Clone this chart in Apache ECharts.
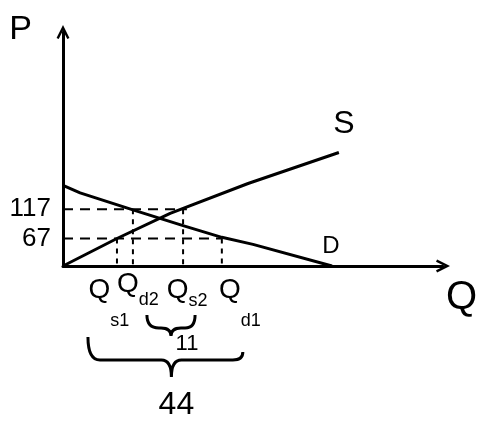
<!DOCTYPE html>
<html>
<head>
<meta charset="utf-8">
<script src="https://cdn.jsdelivr.net/npm/echarts@6/dist/echarts.min.js"></script>
<style>
  html,body{margin:0;padding:0;background:#fff;}
  #chart{width:480px;height:427px;}
</style>
</head>
<body>
<div id="chart"></div>
<script>
// quantities marked on the Q axis: Qs1, Qd2, Qs2, Qd1
const qMarks = [14.2, 18.4, 31.6, 41.8];
const qLabels = ['s1', 'd2', 's2', 'd1'];
// prices marked on the P axis
const pMarks = [67, 117];
// demand and supply curves [Q, P]
const demand = [[0,158],[4.5,145],[18.4,116],[31.6,89],[41.8,69],[50,57],[70.8,20]];
const supply = [[0,20],[14.2,67],[28.2,110],[48.7,161],[72.6,214]];
// braces: [from Q, to Q, width label]
const braces = [[18.4, 31.6, '11'], [14.2, 41.8, '44']];

const P0 = 20;
const FONT = '"Liberation Sans", sans-serif';
const arrow = 'path://M0,12 L6,0 L12,12 L10,13 L6,5 L2,13 Z';
// hand-written labels sit a little off their ticks
const labelShift = [-8, 5, 4, 18];
const subDrop = [36, 21, 16, 36];

function guides(){
  const h = [], v = [];
  h.push([0, pMarks[1]], [qMarks[2] + 1, pMarks[1]], null);
  h.push([0, pMarks[0]], [qMarks[3], pMarks[0]]);
  v.push([qMarks[0], pMarks[0]], [qMarks[0], P0], null);
  v.push([qMarks[1], pMarks[1]], [qMarks[1], P0], null);
  v.push([qMarks[2], pMarks[1]], [qMarks[2], P0], null);
  v.push([qMarks[3], pMarks[0]], [qMarks[3], P0]);
  return {h, v};
}
const g = guides();

function bracePath(l, r, top, topR, d, tip, m){
  const b = top + d;
  return 'M' + l + ',' + top +
    ' Q' + l + ',' + b + ' ' + (l + 12) + ',' + b +
    ' L' + (m - 10) + ',' + b +
    ' Q' + m + ',' + b + ' ' + m + ',' + (b + tip) +
    ' Q' + m + ',' + b + ' ' + (m + 10) + ',' + b +
    ' L' + (r - 10) + ',' + b +
    ' Q' + r + ',' + b + ' ' + r + ',' + topR;
}

function renderBrace(params, api){
  const a = api.coord([api.value(0), P0]);
  const b = api.coord([api.value(1), P0]);
  const big = params.dataIndex === 1;
  let l, r, top, topR, d, tip, m, tx, ty, fs;
  if (big){
    l = a[0] - 29; r = b[0] + 21; top = a[1] + 71; topR = a[1] + 86;
    d = 23; tip = 17; m = (l + r) / 2 + 6; tx = m + 5; ty = a[1] + 139; fs = 32;
  } else {
    l = a[0] + 14; r = b[0] + 12; top = a[1] + 49; topR = a[1] + 49;
    d = 13; tip = 8; m = (l + r) / 2; tx = m + 16; ty = a[1] + 78; fs = 22;
  }
  return {
    type: 'group',
    children: [
      {type: 'path', shape: {pathData: bracePath(l, r, top, topR, d, tip, m)},
       style: {stroke: '#000', lineWidth: 3, fill: null}},
      {type: 'text', style: {text: braces[params.dataIndex][2], x: tx, y: ty,
       font: fs + 'px ' + FONT, fill: '#000', textAlign: 'center', textVerticalAlign: 'middle'}}
    ]
  };
}

const rich = {};
labelShift.forEach(function(s, i){
  rich['q' + i] = {fontSize: 28, fontFamily: FONT, color: '#000', verticalAlign: 'top',
    padding: [0, 0, 0, s > 0 ? 2 * s : 0]};
  rich['s' + i] = {fontSize: 18, fontFamily: FONT, color: '#000', verticalAlign: 'top',
    padding: [subDrop[i], s < 0 ? -2 * s : 0, 0, 0]};
});

function qLabel(v){
  const i = qMarks.indexOf(v);
  return '{q' + i + '|Q}{s' + i + '|' + qLabels[i] + '}';
}
const axisLineStyle = {onZero: false, symbol: ['none', arrow], symbolSize: [14, 14], lineStyle: {color: '#000', width: 3}};

const chart = echarts.init(document.getElementById('chart'));
chart.setOption({
  animation: false,
  grid: {left: 63, right: 37, top: 32, bottom: 161, outerBoundsMode: 'none'},
  xAxis: [{
    type: 'value', min: 0, max: 100,
    name: 'Q', nameLocation: 'end', nameGap: 3,
    nameTextStyle: {fontSize: 40, fontFamily: FONT, color: '#000', verticalAlign: 'top', align: 'left', padding: [12, 0, 0, 0]},
    axisLine: axisLineStyle,
    axisTick: {show: false},
    splitLine: {show: false},
    axisLabel: {customValues: [qMarks[0], qMarks[2], qMarks[3]], margin: 10, hideOverlap: false, formatter: qLabel, rich: rich}
  }, {
    // Qd2 is written higher, squeezed between Qs1 and Qs2
    type: 'value', min: 0, max: 100, position: 'bottom',
    axisLine: {show: false},
    axisTick: {show: false},
    splitLine: {show: false},
    axisLabel: {customValues: [qMarks[1]], margin: 4, hideOverlap: false, formatter: qLabel, rich: rich}
  }],
  yAxis: {
    type: 'value', min: P0, max: 420,
    name: 'P', nameLocation: 'end', nameGap: 2,
    nameTextStyle: {fontSize: 34, fontFamily: FONT, color: '#000', align: 'right', verticalAlign: 'middle', padding: [0, 31, 0, 0]},
    axisLine: axisLineStyle,
    axisTick: {show: false},
    splitLine: {show: false},
    axisLabel: {customValues: pMarks, margin: 12, fontSize: 26, fontFamily: FONT, color: '#000', hideOverlap: false}
  },
  series: [
    {type: 'line', data: g.h, symbol: 'none', connectNulls: false,
     lineStyle: {color: '#000', width: 2, type: [10, 7]}},
    {type: 'line', data: g.v, symbol: 'none', connectNulls: false,
     lineStyle: {color: '#000', width: 2, type: [5, 5]}},
    {type: 'line', name: 'D', data: demand, symbol: 'none',
     lineStyle: {color: '#000', width: 3},
     endLabel: {show: true, formatter: 'D', fontSize: 24, fontFamily: FONT, color: '#000', align: 'center', verticalAlign: 'middle', offset: [-9, -20]}},
    {type: 'line', name: 'S', data: supply, symbol: 'none',
     lineStyle: {color: '#000', width: 3},
     endLabel: {show: true, formatter: 'S', fontSize: 32, fontFamily: FONT, color: '#000', align: 'center', verticalAlign: 'middle', offset: [-3, -28]}},
    {type: 'custom', data: braces.map(b => [b[0], b[1], 0]), encode: {x: [0, 1], y: 2},
     renderItem: renderBrace, silent: true}
  ]
});
</script>
</body>
</html>
